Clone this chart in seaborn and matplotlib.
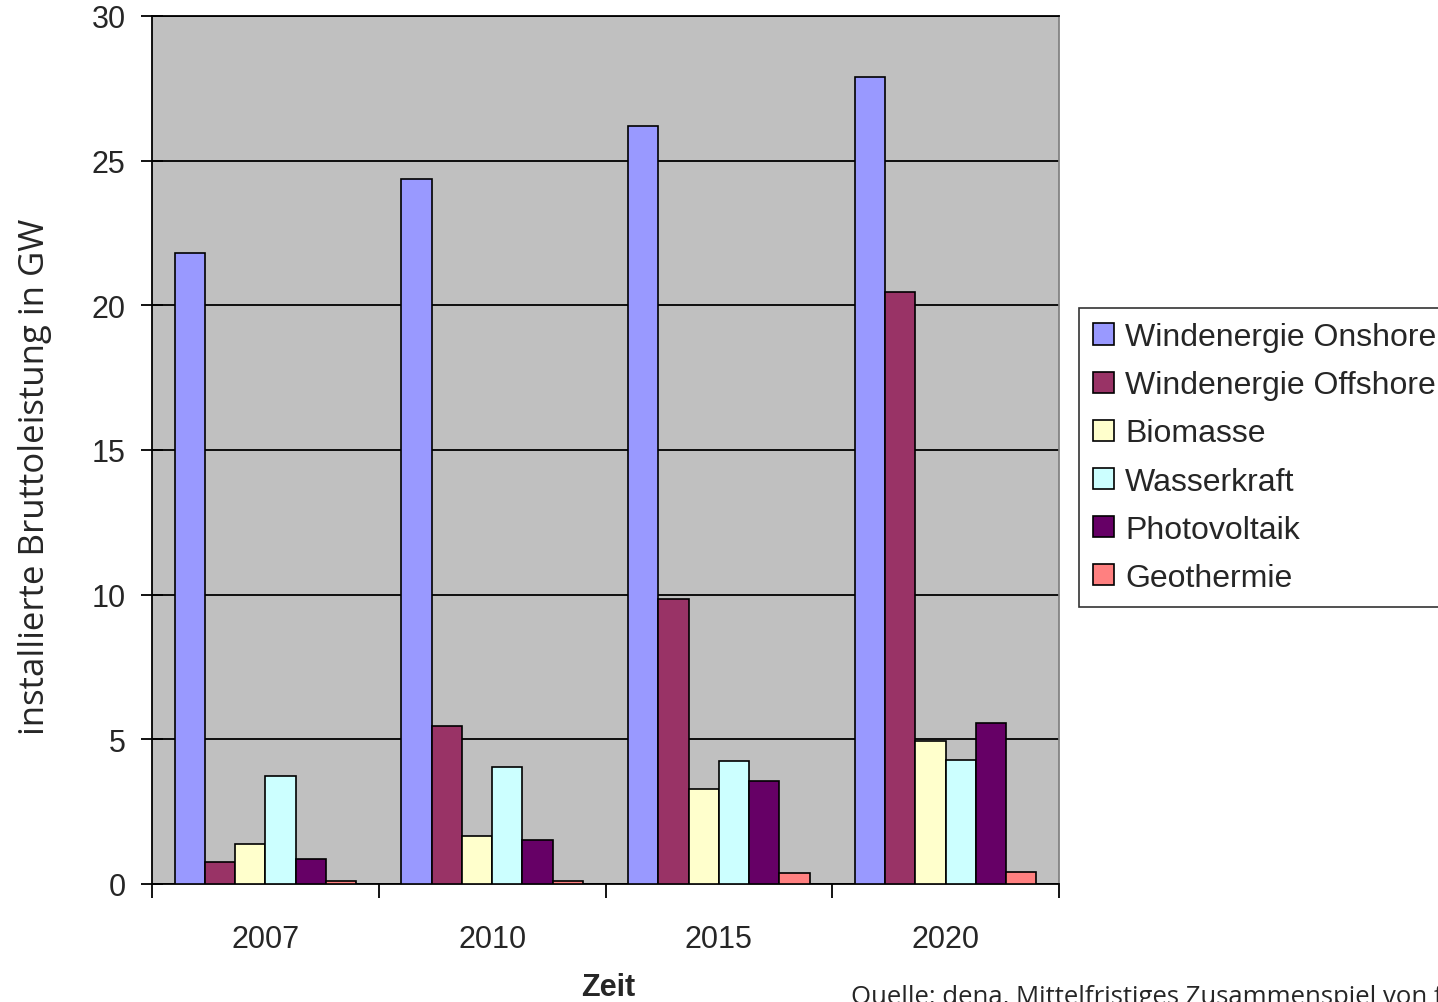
import matplotlib
matplotlib.use('Agg')
import matplotlib.pyplot as plt
import pandas as pd
import seaborn as sns

# Daten (GW)
JAHRE = ['2007', '2010', '2015', '2020']
ONSHORE = [21.8, 24.35, 26.2, 27.9]
OFFSHORE = [0.75, 5.45, 9.85, 20.45]
BIOMASSE = [1.38, 1.65, 3.28, 4.93]
WASSERKRAFT = [3.72, 4.05, 4.24, 4.30]
PHOTOVOLTAIK = [0.88, 1.52, 3.56, 5.58]
GEOTHERMIE = [0.1, 0.1, 0.38, 0.43]

SERIEN = ['Windenergie Onshore', 'Windenergie Offshore', 'Biomasse',
          'Wasserkraft', 'Photovoltaik', 'Geothermie']
FARBEN = ['#9999FF', '#993366', '#FFFFCC', '#CCFFFF', '#660066', '#FF8080']

werte = [ONSHORE, OFFSHORE, BIOMASSE, WASSERKRAFT, PHOTOVOLTAIK, GEOTHERMIE]
rows = []
for name, vals in zip(SERIEN, werte):
    for jahr, v in zip(JAHRE, vals):
        rows.append({'Jahr': jahr, 'Quelle': name, 'GW': v})
df = pd.DataFrame(rows)

sns.set_theme(style='white')
plt.rcParams['font.family'] = ['Liberation Sans', 'DejaVu Sans']

fig = plt.figure(figsize=(14.38, 10.03), dpi=100)
ax = fig.add_axes([152 / 1438, 1 - 885 / 1003, (1059 - 152) / 1438, (885 - 17) / 1003])
ax.set_facecolor('#C0C0C0')

sns.barplot(data=df, x='Jahr', y='GW', hue='Quelle', hue_order=SERIEN,
            order=JAHRE, palette=FARBEN, width=0.8, gap=0, saturation=1,
            edgecolor='black', linewidth=1.2, errorbar=None, ax=ax, zorder=3)

ax.set_ylim(0, 30)
ax.set_xlim(-0.5, len(JAHRE) - 0.5)
ax.set_yticks(range(0, 31, 5))
ax.yaxis.grid(True, color='black', linewidth=1.3, zorder=1)
ax.set_axisbelow(True)

# Striche zwischen den Gruppen
ax.set_xticks([i - 0.5 for i in range(len(JAHRE) + 1)], minor=True)
ax.tick_params(axis='x', which='major', length=0, pad=29, labelsize=22)
ax.tick_params(axis='x', which='minor', length=10, width=1.3, color='black', bottom=True)
ax.tick_params(axis='y', length=16, width=1.3, direction='inout', color='black',
               left=True, labelsize=22, pad=11)

for side in ['left', 'bottom', 'top']:
    ax.spines[side].set_color('black')
    ax.spines[side].set_linewidth(1.3)
ax.spines['right'].set_color('#808080')

ax.set_ylabel('installierte Bruttoleistung in GW', family=['Open Sans', 'DejaVu Sans'],
              fontsize=25, va='center')
ax.yaxis.set_label_coords((35 - 152) / 907, (885 - 477) / 868)
ax.set_xlabel('Zeit', fontweight='bold', fontsize=22, va='center')
ax.xaxis.set_label_coords((608 - 152) / 907, (885 - 988) / 868)

leg = ax.legend(loc='upper left', bbox_to_anchor=(1079 / 1438, 1 - 309 / 1003),
                bbox_transform=fig.transFigure, frameon=True, fancybox=False,
                fontsize=23, handlelength=0.65, handleheight=0.65, handletextpad=0.35,
                labelspacing=0.565, borderpad=0.45, borderaxespad=0)
leg.get_frame().set_edgecolor('black')
leg.get_frame().set_linewidth(1.2)
leg.get_frame().set_facecolor('white')

fig.text(851 / 1438, 1 - 985 / 1003,
         'Quelle: dena, Mittelfristiges Zusammenspiel von fossilen und erneuerbaren Energien',
         family=['Open Sans', 'DejaVu Sans'], fontsize=18.5, va='top', ha='left')

fig.savefig('out.png', dpi=100)
